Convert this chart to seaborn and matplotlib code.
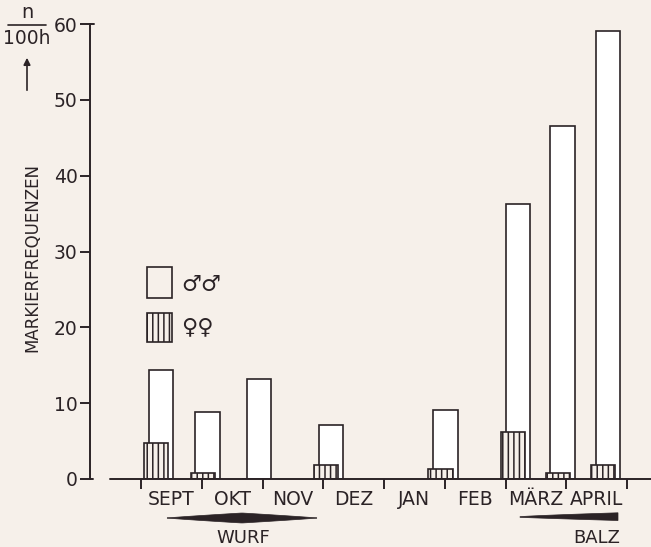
import numpy as np
import pandas as pd
import matplotlib
matplotlib.use("Agg")
import matplotlib.pyplot as plt
import seaborn as sns
from matplotlib.patches import Rectangle, Polygon
from matplotlib.lines import Line2D

# ---------------- data ----------------
months = ["SEPT", "OKT", "NOV", "DEZ", "JAN", "FEB", "MÄRZ", "APRIL"]
# observation periods (position in months from 1 Sept)
male_pos = [0.33, 1.095, 1.94, 3.13, 5.01, 6.20, 6.94, 7.69]
male_val = [14.4, 8.8, 13.2, 7.1, 9.1, 36.3, 46.6, 59.1]
female_pos = [0.25, 1.015, 1.86, 3.05, 4.93, 6.12, 6.86, 7.61]
female_val = [4.8, 0.8, 0.0, 1.9, 1.3, 6.2, 0.8, 1.8]
yticks = [0, 10, 20, 30, 40, 50, 60]

INK = "#2b2326"
BG = "#f6f0ea"

sns.set_theme(style="white")
plt.rcParams["font.family"] = ["DejaVu Sans"]

W, H = 651, 547
fig = plt.figure(figsize=(W / 100, H / 100), dpi=100, facecolor=BG)

def fx(px):
    return px / W

def fy(py):
    return 1 - py / H

# axes: left spine at x=90, right edge 651; y=0 at 479, y=60 at 24
ax = fig.add_axes([fx(90), fy(479), fx(651) - fx(90), fy(24) - fy(479)])
ax.set_facecolor("none")

unit = 60.75  # px per month
x0 = 141
xl = (90 - x0) / unit
xr = (651 - x0) / unit

bar_w = 0.40
dm = pd.DataFrame({"pos": male_pos, "val": male_val})
df = pd.DataFrame({"pos": female_pos, "val": female_val})
wm = bar_w / np.min(np.diff(np.sort(dm["pos"].values)))
wf = bar_w / np.min(np.diff(np.sort(df["pos"].values)))

plt.rcParams["hatch.linewidth"] = 1.1
plt.rcParams["hatch.color"] = INK

sns.barplot(data=dm, x="pos", y="val", native_scale=True, width=wm,
            color="white", edgecolor=INK, linewidth=1.2, saturation=1,
            errorbar=None, ax=ax, zorder=2)
sns.barplot(data=df, x="pos", y="val", native_scale=True, width=wf,
            color="white", edgecolor=INK, linewidth=1.2, saturation=1,
            errorbar=None, ax=ax, zorder=3)
for p in ax.patches[len(male_pos):]:
    p.set_hatch("|||")
    p.set_facecolor(BG)

ax.set_xlim(xl, xr)
ax.set_ylim(0, 60)
ax.set_xlabel("")
ax.set_ylabel("")

for s in ["top", "right", "bottom"]:
    ax.spines[s].set_visible(False)
ax.spines["left"].set_color(INK)
ax.spines["left"].set_linewidth(1.4)

# x axis line starting right of the spine
ax.plot([(110 - x0) / unit, xr], [0, 0], color=INK, lw=1.4, clip_on=False, zorder=4)
# small hooks at the spine ends
ax.plot([xl, xl + 4 / unit], [60, 60], color=INK, lw=1.4, clip_on=False)
ax.plot([xl, xl + 3 / unit], [0, 0], color=INK, lw=1.4, clip_on=False)

ax.set_xticks(np.arange(0, 9))
ax.set_xticklabels([])
ax.set_xticks(np.arange(len(months)) + 0.5, minor=True)
ax.set_xticklabels(months, minor=True)
ax.tick_params(axis="x", which="major", direction="out", length=7, width=1.4,
               color=INK, bottom=True)
ax.tick_params(axis="x", which="minor", length=0, pad=8, labelsize=13.5,
               labelcolor=INK, bottom=True)

ax.set_yticks(yticks)
ax.set_yticklabels([str(v) for v in yticks])
ax.tick_params(axis="y", direction="out", length=7, width=1.4, color=INK,
               left=True, pad=2, labelsize=13.5, labelcolor=INK)

# y-axis label and unit
fig.text(fx(32), fy(258), "MARKIERFREQUENZEN", rotation=90, ha="center",
         va="center", fontsize=12, color=INK)
fig.text(fx(27), fy(13), "n", ha="center", va="center", fontsize=14, color=INK)
fig.add_artist(Line2D([fx(8), fx(46)], [fy(25), fy(25)], color=INK, lw=1.2))
fig.text(fx(27), fy(39), "100h", ha="center", va="center", fontsize=13.5, color=INK)
fig.add_artist(matplotlib.patches.FancyArrowPatch(
    (fx(27), fy(93)), (fx(27), fy(55)), transform=fig.transFigure,
    arrowstyle="-|>,head_length=4,head_width=2", color=INK, lw=1.2))

# legend
fig.add_artist(Rectangle((fx(147), fy(298)), fx(172) - fx(147), fy(267) - fy(298),
                         transform=fig.transFigure, facecolor=BG, edgecolor=INK, lw=1.2))
fig.add_artist(Rectangle((fx(147), fy(342)), fx(172) - fx(147), fy(313) - fy(342),
                         transform=fig.transFigure, facecolor=BG, edgecolor=INK,
                         lw=1.2, hatch="|||"))
fig.text(fx(181), fy(285), "♂♂", ha="left", va="center", fontsize=16, color=INK)
fig.text(fx(181), fy(327), "♀♀", ha="left", va="center", fontsize=16, color=INK)

# WURF spindle
s = np.linspace(-1, 1, 80)
xc, half, T = 242, 75, 5.0
xs = xc + s * half
th = T * (1 - np.abs(s)) ** 0.9
top = [(fx(x), fy(518 - t)) for x, t in zip(xs, th)]
bot = [(fx(x), fy(518 + t)) for x, t in zip(xs[::-1], th[::-1])]
fig.add_artist(Polygon(top + bot, closed=True, transform=fig.transFigure,
                       facecolor=INK, edgecolor=INK, lw=0.5))
fig.text(fx(243), fy(538), "WURF", ha="center", va="center", fontsize=13, color=INK)

# BALZ wedge
u = np.linspace(0, 1, 50)
xs = 520 + u * 98
tt = 0.3 + 3.9 * u ** 0.8
tb = 0.3 + 3.2 * u ** 0.9
top = [(fx(x), fy(517 - t)) for x, t in zip(xs, tt)]
bot = [(fx(x), fy(517 + t)) for x, t in zip(xs[::-1], tb[::-1])]
fig.add_artist(Polygon(top + bot, closed=True, transform=fig.transFigure,
                       facecolor=INK, edgecolor=INK, lw=0.5))
fig.text(fx(597), fy(538), "BALZ", ha="center", va="center", fontsize=13, color=INK)

fig.savefig("out.png", dpi=100, facecolor=BG)
